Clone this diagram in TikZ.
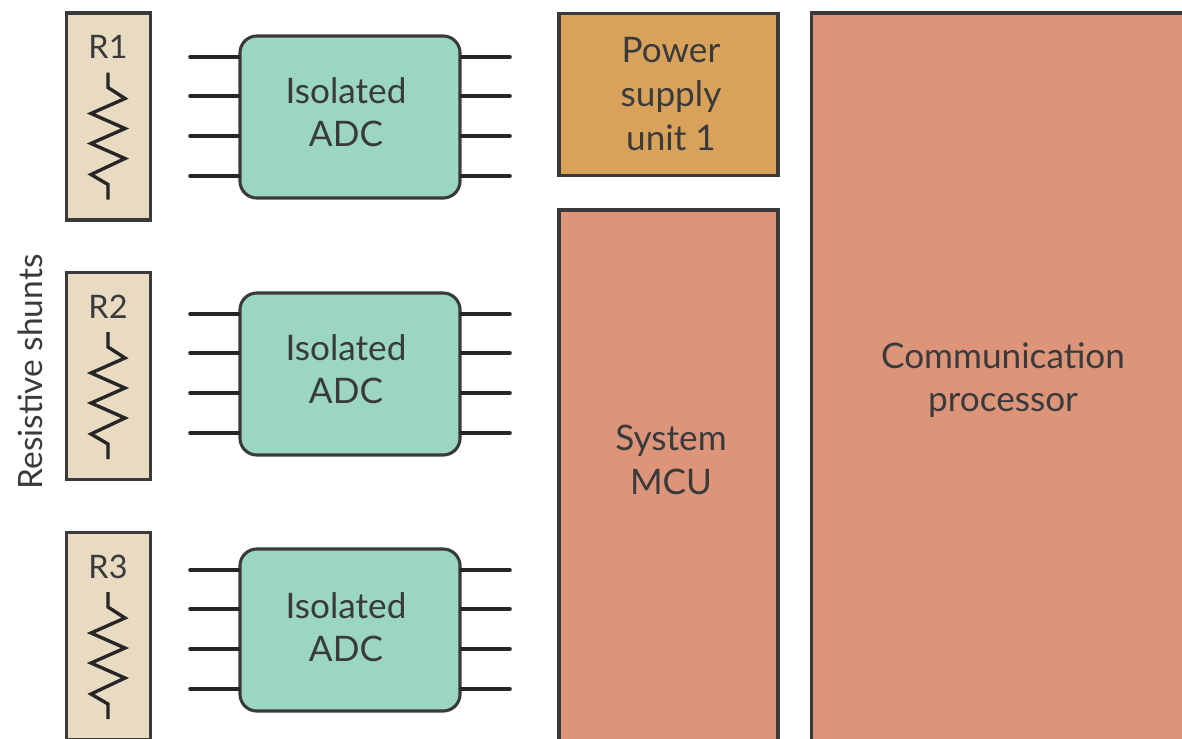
\documentclass[tikz,border=0pt]{standalone}
\usepackage{xcolor}
\usepackage{fontspec}
\setmainfont{Lato}
\usepackage{tikz}
\usetikzlibrary{positioning}
\definecolor{mydark}{RGB}{58,58,60}
\definecolor{hdrsand}{RGB}{232,219,194}
\definecolor{hdrteal}{RGB}{155,214,192}
\definecolor{hdramber}{RGB}{216,162,90}
\definecolor{hdrsalmon}{RGB}{221,149,122}
\tikzset{
  shuntbox/.style={rectangle, draw=mydark, fill=hdrsand,
    minimum width=2.1cm, minimum height=5.18cm, line width=2.4pt},
  adcblock/.style={rectangle, draw=mydark, fill=hdrteal,
    minimum width=5.5cm, minimum height=4.05cm,
    rounded corners=12pt, line width=2.2pt},
  block/.style={rectangle, draw=mydark, line width=2.5pt},
  label/.style={text=mydark, align=center, font=\fontsize{25}{31}\selectfont},
  pin/.style={line width=3.2pt, color=black!85, line cap=round},
  zigzag/.style={line width=2.4pt, color=black!85, line join=miter}
}
\begin{document}
\begin{tikzpicture}[x=0.025cm, y=-0.025cm]
  \clip (0, 0) rectangle (1182, 738);

  % Shunts
  \node[shuntbox] (r1) at (108.5, 116.5) {};
  \node[shuntbox] (r2) at (108.5, 376) {};
  \node[shuntbox] (r3) at (108.5, 636) {};
  \node[label, font=\fontsize{23}{28}\selectfont] (r1txt) at (108, 47) {R1};
  \node[label, font=\fontsize{23}{28}\selectfont] (r2txt) at (108, 307) {R2};
  \node[label, font=\fontsize{23}{28}\selectfont] (r3txt) at (108, 567) {R3};
  \node[label, rotate=90, font=\fontsize{23.8}{28}\selectfont] (shunts) at (30, 372) {Resistive shunts};

  % Resistors
  \foreach \ry in {116.5, 376, 636}
    \draw[zigzag] (108, \ry-44) -- (108, \ry-29) -- (125, \ry-18) -- (91, \ry-3) -- (125, \ry+12)
      -- (91, \ry+27) -- (125, \ry+42) -- (91, \ry+58) -- (108, \ry+68) -- (108, \ry+83);

  % ADCs
  \node[adcblock] (adc1) at (350, 117) {};
  \node[adcblock] (adc2) at (350, 374) {};
  \node[adcblock] (adc3) at (350, 630) {};
  \node[label] (adc1txt) at (346, 112) {Isolated\\ADC};
  \node[label] (adc2txt) at (346, 369) {Isolated\\ADC};
  \node[label] (adc3txt) at (346, 627) {Isolated\\ADC};

  % Pins
  \foreach \chip in {adc1, adc2, adc3}
    \foreach \dy in {-60, -21, 19, 59} {
      \draw[pin] ([shift={(0, \dy)}]\chip.west) -- ++(-48, 0);
      \draw[pin] ([shift={(0, \dy)}]\chip.east) -- ++(48, 0);
    }

  % Right side
  \node[block, fill=hdramber, minimum width=5.47cm, minimum height=4.04cm] (psu) at (668.5, 94.5) {};
  \node[label] (psutxt) at (671, 94) {Power\\supply\\unit 1};
  \node[block, fill=hdrsalmon, minimum width=5.47cm, minimum height=13.5cm] (mcu) at (668.5, 480) {};
  \node[label] (mcutxt) at (671, 460) {System\\MCU};
  \node[block, fill=hdrsalmon, minimum width=10cm, minimum height=18.7cm] (comm) at (1011.5, 387) {};
  \node[label] (commtxt) at (1003, 380) {Communication\\processor};
\end{tikzpicture}
\end{document}
